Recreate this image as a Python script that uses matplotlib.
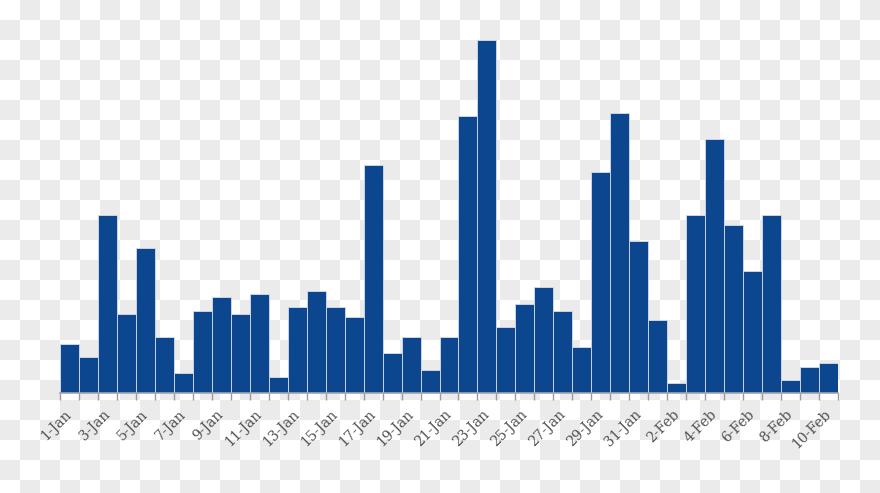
import numpy as np
import matplotlib
matplotlib.use("Agg")
import matplotlib.pyplot as plt

# daily counts, 1-Jan .. 10-Feb
days = ([f"{d}-Jan" for d in range(1, 32)] +
        [f"{d}-Feb" for d in range(1, 11)])
counts = [15, 11, 54, 24, 44, 17, 6, 25, 29, 24,
          30, 5, 26, 31, 26, 23, 69, 12, 17, 7,
          17, 84, 107, 20, 27, 32, 25, 14, 67, 85,
          46, 22, 3, 54, 77, 51, 37, 54, 4, 8, 9]

W, H = 880, 493
fig = plt.figure(figsize=(W / 100, H / 100), dpi=100)

# checkerboard backdrop (transparent png look)
bg = fig.add_axes([0, 0, 1, 1])
yy, xx = np.indices((H, W)) // 20
checker = ((xx + yy) % 2).astype(float)
bg.imshow(checker, cmap=matplotlib.colors.ListedColormap(["#ffffff", "#ebebeb"]),
          aspect="auto", interpolation="nearest")
bg.axis("off")

ax = fig.add_axes([60 / W, 100 / H, 778 / W, 353 / H])
ax.patch.set_alpha(0)
x = np.arange(len(counts))
ax.bar(x, counts, width=1.0, color="#0b468f", edgecolor="#d6deea", linewidth=0.6)

ax.set_xlim(-0.5, len(counts) - 0.5)
ax.set_ylim(0, 107)

for s in ["left", "right", "top"]:
    ax.spines[s].set_visible(False)
ax.spines["bottom"].set_color("#a0a4ac")
ax.spines["bottom"].set_linewidth(1.2)
ax.set_yticks([])

ax.set_xticks(x[::2])
ax.set_xticklabels(days[::2], rotation=45, ha="right", va="center",
                   rotation_mode="anchor", fontsize=10, color="#505050",
                   family="DejaVu Serif")
ax.tick_params(axis="x", which="major", length=0, pad=14)
ax.set_xticks(np.arange(-0.5, len(counts)), minor=True)
ax.tick_params(axis="x", which="minor", length=5, color="#9a9a9a", width=1)

fig.savefig("out.png", dpi=100)
